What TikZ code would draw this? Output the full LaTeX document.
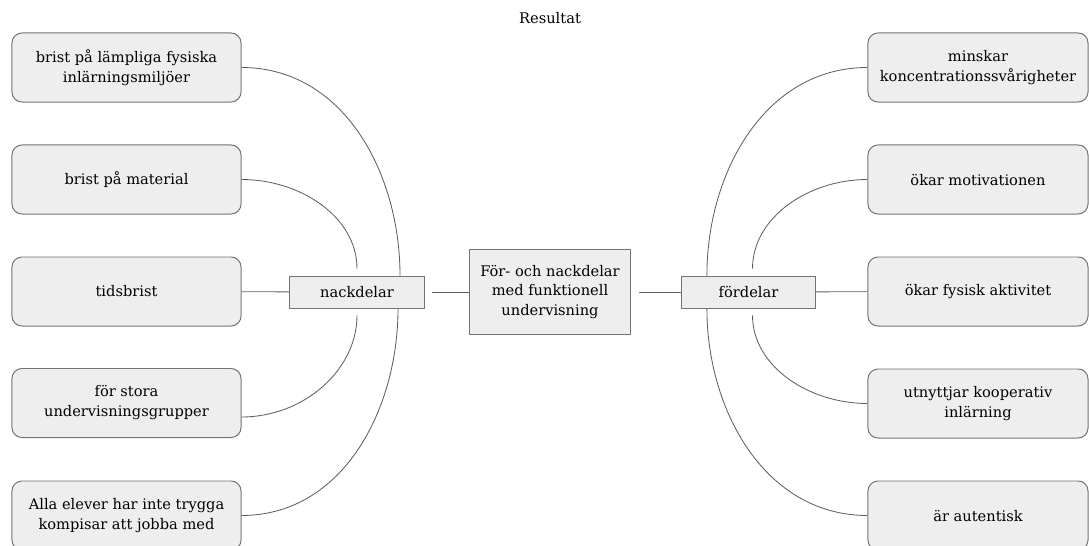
\documentclass[tikz,border=0pt]{standalone}
\usepackage{fontspec}
\setmainfont{DejaVu Serif}
\usepackage{xcolor}
\definecolor{boxfill}{RGB}{238,238,238}
\definecolor{boxline}{RGB}{115,115,115}
\definecolor{linkline}{RGB}{95,95,95}

\begin{document}
\begin{tikzpicture}[x=0.025cm, y=-0.025cm, font=\fontsize{10.4}{14.2}\selectfont]
    % Define styles
    \tikzstyle{leaf} = [rectangle, draw=boxline, fill=boxfill, line width=0.7pt, align=center, rounded corners=0.25cm, minimum width=5.725cm, minimum height=1.725cm]
    \tikzstyle{rleaf} = [leaf, minimum width=5.5cm]
    \tikzstyle{hub} = [rectangle, draw=boxline, fill=boxfill, line width=0.7pt, minimum width=3.35cm, minimum height=0.8cm]
    \tikzstyle{core} = [rectangle, draw=boxline, fill=boxfill, line width=0.7pt, align=center, minimum width=4.025cm, minimum height=2.1cm]
    \tikzstyle{link} = [draw=linkline, line width=0.6pt]
    \tikzstyle{inner} = [link, shorten >=0.17cm]

    \useasboundingbox (0,0) rectangle (1089,545);

    % Nodes
    \node (title) at (550,18) {Resultat};
    \node [core] (topic) at (550,292) {För- och nackdelar\\med funktionell\\undervisning};
    \node [hub] (nack) at (357,292) {nackdelar};
    \node [hub] (ford) at (748.5,292) {fördelar};

    \node [leaf] (lack1) at (126.5,67.5) {brist på lämpliga fysiska\\inlärningsmiljöer};
    \node [leaf] (lack2) at (126.5,179.5) {brist på material};
    \node [leaf] (lack3) at (126.5,291.5) {tidsbrist};
    \node [leaf] (lack4) at (126.5,403) {för stora\\undervisningsgrupper};
    \node [leaf] (lack5) at (126.5,515.5) {Alla elever har inte trygga\\kompisar att jobba med};

    \node [rleaf] (gain1) at (978,67.5) {minskar\\koncentrationssvårigheter};
    \node [rleaf] (gain2) at (978,179.5) {ökar motivationen};
    \node [rleaf] (gain3) at (978,291.5) {ökar fysisk aktivitet};
    \node [rleaf] (gain4) at (978,403.5) {utnyttjar kooperativ\\inlärning};
    \node [rleaf] (gain5) at (978,515.5) {är autentisk};

    % Connectors
    \draw [link] (lack1.east) to[out=0, in=90] ([xshift=1.075cm]nack.north);
    \draw [inner] (lack2.east) to[out=0, in=90] (nack.north);
    \draw [link] (lack3) -- (nack);
    \draw [inner] ([yshift=-0.35cm]lack4.east) to[out=0, in=-90] (nack.south);
    \draw [link] (lack5.east) to[out=0, in=-90] ([xshift=1.025cm]nack.south);
    \draw [link, shorten <=0.18cm] (nack) -- (topic);

    \draw [link, shorten <=0.2cm] (topic) -- (ford);
    \draw [link] (gain1.west) to[out=180, in=90] ([xshift=-1.04cm]ford.north);
    \draw [inner] (gain2.west) to[out=180, in=90] ([xshift=0.1cm]ford.north);
    \draw [link] (ford) -- (gain3);
    \draw [inner] (gain4.west) to[out=180, in=-90] ([xshift=0.1cm]ford.south);
    \draw [link] (gain5.west) to[out=180, in=-90] ([xshift=-1.04cm]ford.south);
\end{tikzpicture}
\end{document}
